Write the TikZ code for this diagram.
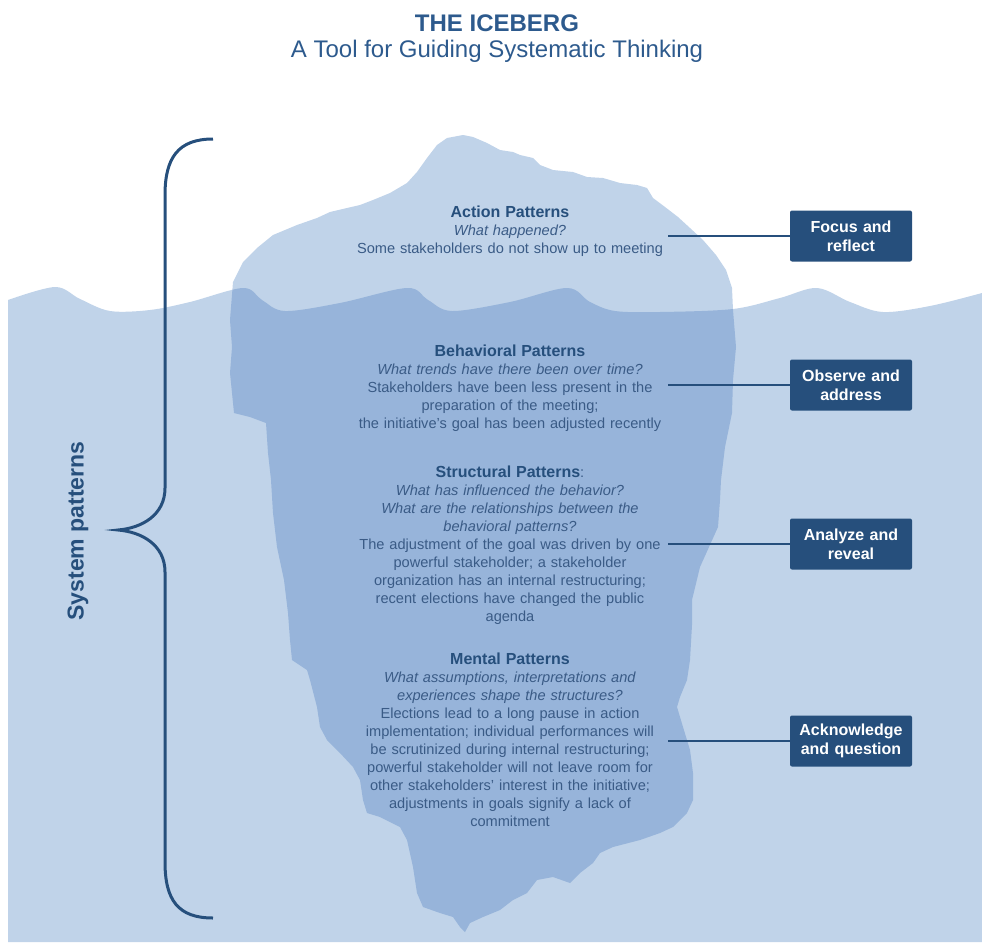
\documentclass[tikz,border=0pt]{standalone}
\usepackage{fontspec}
\setmainfont{Liberation Sans}
\usepackage{tikz}
\usetikzlibrary{positioning}

\definecolor{seablue}{HTML}{C0D3E9}
\definecolor{deepblue}{HTML}{97B4DA}
\definecolor{navy}{HTML}{264F7C}
\definecolor{inkblue}{HTML}{3A5B86}
\definecolor{titleblue}{HTML}{2D5A8D}

\tikzstyle{layer} = [text width=316pt, align=center, inner sep=0pt, text=inkblue, font=\fontsize{14.6}{18}\selectfont]
\tikzstyle{prompt} = [rectangle, rounded corners=2pt, fill=navy, text=white, minimum width=122pt, minimum height=51pt, text width=116pt, align=center, inner sep=0pt, font=\fontsize{16}{19}\selectfont\bfseries]
\tikzstyle{link} = [line width=2pt, draw=navy]

% bold heading inside a layer
\newcommand{\layerhead}[1]{{\fontsize{16}{18}\selectfont\bfseries\color{navy}#1}}

% surface of the sea
\newcommand{\waterline}{plot[smooth, tension=0.55] coordinates {(8,300) (55,287) (80,299) (110,311) (150,310) (190,302) (243,288) (262,300) (285,311) (340,303) (407,288) (428,300) (452,311) (510,302) (567,288) (590,302) (615,311) (660,312) (733,309) (780,298) (817,288) (850,302) (883,312) (930,306) (982,293)}}

% rough outline of the iceberg
\newcommand{\bergoutline}{(437,145) -- (447,138) -- (463,135) -- (473,137) -- (487,143) -- (500,150) -- (513,152) -- (520,155) -- (533,158) -- (540,165) -- (553,170) -- (573,172) -- (587,177) -- (603,178) -- (620,183) -- (637,185) -- (647,188) -- (653,198) -- (665,207) -- (678,217) -- (690,228) -- (703,240) -- (716,255) -- (726,270) -- (732,288) -- (733,310) -- (736,347) -- (733,380) -- (732,413) -- (725,447) -- (721,480) -- (720,500) -- (718,527) -- (700,567) -- (692,600) -- (692,625) -- (690,660) -- (687,680) -- (680,697) -- (677,707) -- (683,727) -- (690,750) -- (693,773) -- (693,800) -- (687,813) -- (673,827) -- (660,833) -- (640,840) -- (613,847) -- (600,853) -- (593,863) -- (580,873) -- (570,883) -- (553,877) -- (537,880) -- (527,893) -- (513,900) -- (500,910) -- (483,917) -- (470,923) -- (465,932) -- (460,927) -- (453,917) -- (440,913) -- (423,907) -- (417,893) -- (413,867) -- (407,840) -- (400,827) -- (380,817) -- (367,813) -- (363,800) -- (360,780) -- (353,767) -- (340,753) -- (327,740) -- (320,727) -- (317,707) -- (310,680) -- (307,670) -- (292,660) -- (290,640) -- (288,613) -- (284,580) -- (277,547) -- (273,513) -- (271,480) -- (268,453) -- (266,423) -- (250,417) -- (234,413) -- (230,373) -- (232,347) -- (230,320) -- (233,282) -- (243,262) -- (257,248) -- (273,235) -- (297,225) -- (317,218) -- (330,212) -- (347,208) -- (360,205) -- (373,200) -- (390,193) -- (407,183) -- (417,172) -- (427,158) -- cycle}

\begin{document}
\begin{tikzpicture}[x=1pt, y=-1pt] % one unit per pixel, y grows downwards

\useasboundingbox (0,0) rectangle (982,942);

% Sea and iceberg
\fill[seablue] \waterline -- (982,942) -- (8,942) -- cycle;
\fill[seablue] \bergoutline;
\begin{scope}
  \clip \waterline -- (982,942) -- (8,942) -- cycle;
  \fill[deepblue] \bergoutline;
\end{scope}

% Brace over the whole iceberg
\draw[navy, line width=3pt] (213,139) .. controls (178,139) and (165,158) .. (165,195) -- (165,488)
  .. controls (165,515) and (142,528) .. (118,530) .. controls (142,532) and (165,545) .. (165,572)
  -- (165,862) .. controls (165,900) and (178,918) .. (213,918);
\node(system)   [rotate=90, text=navy, font=\fontsize{23}{26}\selectfont\bfseries] at (78,531) {System patterns};

% Title
\node(title)    [text=titleblue, font=\fontsize{24}{28}\selectfont\bfseries] at (497,23) {THE ICEBERG};
\node(subtitle) [text=titleblue, font=\fontsize{24}{28}\selectfont] at (497,51) {A Tool for Guiding Systematic Thinking};

% The four layers
\node(action)     [layer] at (510,231) {\layerhead{Action Patterns}\\ \textit{What happened?}\\ Some stakeholders do not show up to meeting};
\node(behavioral) [layer] at (510,388) {\layerhead{Behavioral Patterns}\\ \textit{What trends have there been over time?}\\ Stakeholders have been less present in the\\ preparation of the meeting;\\ the initiative's goal has been adjusted recently};
\node(structural) [layer] at (510,545) {\layerhead{Structural Patterns}:\\ \textit{What has influenced the behavior?}\\ \textit{What are the relationships between the}\\ \textit{behavioral patterns?}\\ The adjustment of the goal was driven by one\\ powerful stakeholder; a stakeholder\\ organization has an internal restructuring;\\ recent elections have changed the public\\ agenda};
\node(mental)     [layer] at (510,740) {\layerhead{Mental Patterns}\\ \textit{What assumptions, interpretations and}\\ \textit{experiences shape the structures?}\\ Elections lead to a long pause in action\\ implementation; individual performances will\\ be scrutinized during internal restructuring;\\ powerful stakeholder will not leave room for\\ other stakeholders' interest in the initiative;\\ adjustments in goals signify a lack of\\ commitment};

% What to do at each layer
\node(focus)    [prompt] at (851,236) {Focus and\\ reflect};
\node(observe)  [prompt] at (851,385) {Observe and\\ address};
\node(analyze)  [prompt] at (851,544) {Analyze and\\ reveal};
\node(question) [prompt] at (851,741) {Acknowledge\\ and question};

% Connect the layers with the boxes
\draw [link] (action.east |- focus.west)        -- (focus.west);
\draw [link] (behavioral.east |- observe.west)  -- (observe.west);
\draw [link] (structural.east |- analyze.west)  -- (analyze.west);
\draw [link] (mental.east |- question.west)     -- (question.west);

\end{tikzpicture}
\end{document}
